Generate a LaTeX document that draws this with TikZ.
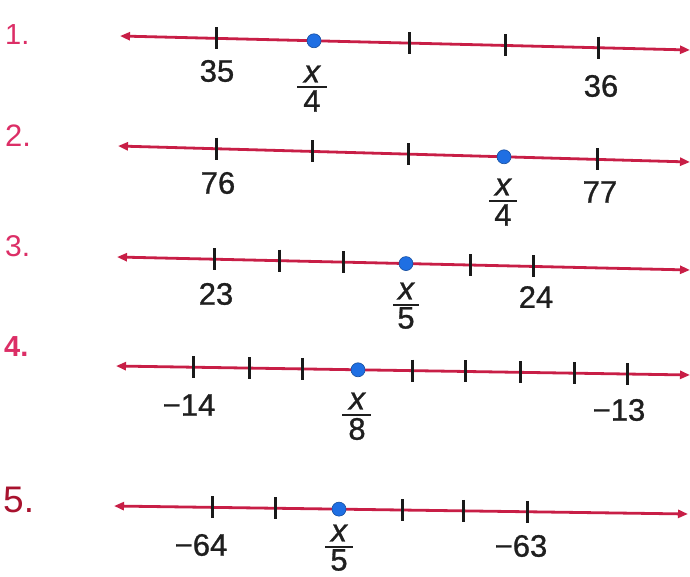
\documentclass[tikz,border=0pt]{standalone}
\usepackage{fontspec}
\setmainfont{Liberation Sans}
\newfontfamily\labfont{Liberation Sans}[FakeBold=0.9]
\usetikzlibrary{arrows.meta,calc}
\definecolor{linered}{HTML}{C81E46}
\definecolor{numred}{HTML}{DC2E66}
\definecolor{numdark}{HTML}{A8122E}
\definecolor{dotblue}{HTML}{1F6FE3}
\begin{document}
\begin{tikzpicture}[x=1pt,y=-1pt,
  nline/.style={draw=linered,line width=2.8pt,{Triangle[length=10pt,width=8pt]}-{Triangle[length=10pt,width=8pt]}},
  tickst/.style={draw=black!90,line width=3pt},
  dotst/.style={circle,fill=dotblue,draw=dotblue!70!black,line width=0.6pt,inner sep=0pt,minimum size=14pt},
  lab/.style={font=\labfont\fontsize{31}{31}\selectfont,inner sep=0pt,text=black!88},
  xlab/.style={font=\labfont\fontsize{32}{32}\selectfont\itshape,inner sep=0pt,text=black!88},
  numlab/.style={inner sep=0pt,text=numred,anchor=west},
  fbar/.style={draw=black!88,line width=2.4pt}]
\useasboundingbox (0,0) rectangle (690,577);
\fill[white] (0,0) rectangle (690,577);

% ---------- 1 ----------
\node[numlab,font=\fontsize{29}{29}\selectfont] (n1) at (5,35) {1.};
\coordinate (L1a) at (120,36); \coordinate (L1b) at (690,50);
\draw[nline] (L1a) -- (L1b);
\foreach \t in {217,410,505,598}
  \draw[tickst] ($(L1a)!{(\t-120)/570}!(L1b)$) ++(0,-11) -- ++(0,22);
\node[dotst] (d1) at ($(L1a)!{(314-120)/570}!(L1b)$) {};
\node[lab] (a1) at (217,71) {35};
\node[lab] (b1) at (601,86) {36};
\node[xlab] (x1) at (312,74) {x};
\draw[fbar] (297,87) -- (327,87);
\node[lab] (y1) at (312,101) {4};

% ---------- 2 ----------
\node[numlab,font=\fontsize{31}{31}\selectfont] (n2) at (5,136) {2.};
\coordinate (L2a) at (118,146); \coordinate (L2b) at (690,162);
\draw[nline] (L2a) -- (L2b);
\foreach \t in {216,313,409,597}
  \draw[tickst] ($(L2a)!{(\t-118)/572}!(L2b)$) ++(0,-11) -- ++(0,22);
\node[dotst] (d2) at ($(L2a)!{(504-118)/572}!(L2b)$) {};
\node[lab] (a2) at (218,183) {76};
\node[lab] (b2) at (600,192) {77};
\node[xlab] (x2) at (503,187) {x};
\draw[fbar] (489,201) -- (517,201);
\node[lab] (y2) at (503,215) {4};

% ---------- 3 ----------
\node[numlab,font=\fontsize{30}{30}\selectfont] (n3) at (5,246) {3.};
\coordinate (L3a) at (117,257); \coordinate (L3b) at (690,270);
\draw[nline] (L3a) -- (L3b);
\foreach \t in {215,279,343,470,533}
  \draw[tickst] ($(L3a)!{(\t-117)/573}!(L3b)$) ++(0,-11) -- ++(0,22);
\node[dotst] (d3) at ($(L3a)!{(406-117)/573}!(L3b)$) {};
\node[lab] (a3) at (216,294) {23};
\node[lab] (b3) at (536,297) {24};
\node[xlab] (x3) at (406,291) {x};
\draw[fbar] (393,305) -- (419,305);
\node[lab] (y3) at (406,318) {5};

% ---------- 4 ----------
\node[numlab,font=\fontsize{29}{29}\selectfont\bfseries] (n4) at (4,347) {4.};
\coordinate (L4a) at (116,366); \coordinate (L4b) at (690,375);
\draw[nline] (L4a) -- (L4b);
\foreach \t in {194,249,303,412,466,520,574,627}
  \draw[tickst] ($(L4a)!{(\t-116)/574}!(L4b)$) ++(0,-11) -- ++(0,22);
\node[dotst] (d4) at ($(L4a)!{(358-116)/574}!(L4b)$) {};
\node[lab] (a4) at (189,405) {−14};
\node[lab] (b4) at (619,410) {−13};
\node[xlab] (x4) at (357,401) {x};
\draw[fbar] (342,415) -- (371,415);
\node[lab] (y4) at (357,429) {8};

% ---------- 5 ----------
\node[numlab,font=\fontsize{37}{37}\selectfont,text=numdark] (n5) at (3,500) {5.};
\coordinate (L5a) at (114,506); \coordinate (L5b) at (688,514);
\draw[nline] (L5a) -- (L5b);
\foreach \t in {212,275,402,464,527}
  \draw[tickst] ($(L5a)!{(\t-114)/574}!(L5b)$) ++(0,-11) -- ++(0,22);
\node[dotst] (d5) at ($(L5a)!{(339-114)/574}!(L5b)$) {};
\node[lab] (a5) at (201,545) {−64};
\node[lab] (b5) at (521,546) {−63};
\node[xlab] (x5) at (339,533) {x};
\draw[fbar] (325,547) -- (353,547);
\node[lab] (y5) at (339,560) {5};
\end{tikzpicture}
\end{document}
